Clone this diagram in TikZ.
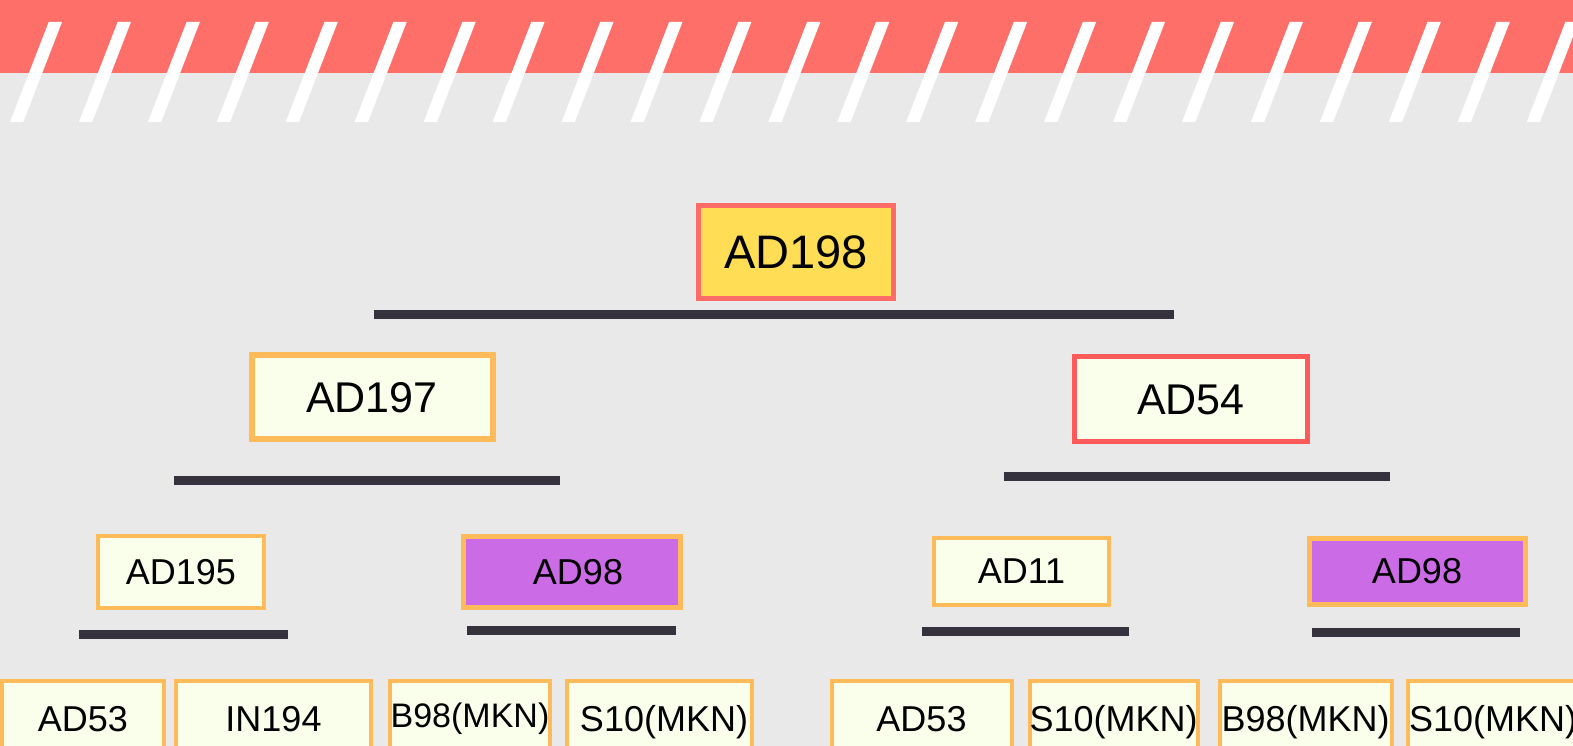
\documentclass[tikz,border=0pt]{standalone}
\usepackage{fontspec}
\setmainfont{Liberation Sans}
\definecolor{bg}{HTML}{E9E9E9}
\definecolor{hdr}{HTML}{FF6F69}
\definecolor{redb}{HTML}{FF5A5A}
\definecolor{rootb}{HTML}{FF6B66}
\definecolor{yel}{HTML}{FFDD55}
\definecolor{orb}{HTML}{FFBB5A}
\definecolor{pale}{HTML}{FAFFEC}
\definecolor{purp}{HTML}{CB6CE6}
\definecolor{barc}{HTML}{35323D}
\tikzset{
  box/.style={draw=orb, fill=pale, line width=5pt, inner sep=0pt, text depth=0pt, anchor=center},
  big/.style={font=\fontsize{47}{50}\selectfont, text height=33.7pt},
  mid/.style={font=\fontsize{43}{46}\selectfont, text height=30.8pt},
  small/.style={font=\fontsize{36}{40}\selectfont, text height=25.8pt},
  bar/.style={draw=barc, line width=9pt},
}
\begin{document}
\begin{tikzpicture}[x=1pt,y=-1pt]
\useasboundingbox (0,0) rectangle (1573,746);
\begin{scope}
\clip (0,0) rectangle (1573,746);
\fill[bg] (0,0) rectangle (1573,746);
\fill[hdr] (0,0) rectangle (1573,72.7);
\foreach \i in {0,...,23} {
  \pgfmathsetmacro{\xa}{48.7+68.94*\i}
  \fill[white] (\xa,22) -- (\xa+13.3,22) -- (\xa+13.3-38.7,122) -- (\xa-38.7,122) -- cycle;
}
% level 1
\node[box, big, draw=rootb, fill=yel, minimum width=195pt, minimum height=93pt] (r) at (796,251.7) {AD198};
\coordinate (r1) at (374,314); \coordinate (r2) at (1174,314);
\draw[bar] (r1) -- (r2);
% level 2
\node[box, mid, minimum width=241pt, minimum height=84pt, line width=6pt] (a197) at (372,396.8) {AD197};
\coordinate (a1) at (173.5,480.5); \coordinate (a2) at (560,480.5);
\draw[bar] (a1) -- (a2);
\node[box, mid, draw=redb, minimum width=233pt, minimum height=85pt] (a54) at (1191,398.8) {AD54};
\coordinate (b1) at (1004,476.5); \coordinate (b2) at (1390,476.5);
\draw[bar] (b1) -- (b2);
% level 3
\node[box, small, minimum width=166pt, minimum height=72pt, line width=4pt] (a195) at (180.8,572) {AD195};
\coordinate (c1) at (79,634.7); \coordinate (c2) at (288,634.7);
\draw[bar] (c1) -- (c2);
\node[box, small, fill=purp, minimum width=217pt, minimum height=71pt] (a98l) at (572,572) {\hspace*{12pt}AD98};
\coordinate (d1) at (466.7,630.7); \coordinate (d2) at (675.7,630.7);
\draw[bar] (d1) -- (d2);
\node[box, small, minimum width=175pt, minimum height=67pt, line width=4pt] (a11) at (1021.5,571) {AD11};
\coordinate (e1) at (922,631); \coordinate (e2) at (1129,631);
\draw[bar] (e1) -- (e2);
\node[box, small, fill=purp, minimum width=216pt, minimum height=66pt] (a98r) at (1417,571) {AD98};
\coordinate (f1) at (1312,632); \coordinate (f2) at (1520,632);
\draw[bar] (f1) -- (f2);
% level 4
\node[box, small, minimum width=162pt, minimum height=76pt, line width=4pt] (g1) at (83,719) {AD53};
\node[box, small, minimum width=195pt, minimum height=76pt, line width=4pt] (g2) at (273.5,719) {IN194};
\node[box, font=\fontsize{34}{38}\selectfont, text height=24.3pt, text depth=7pt, minimum width=160pt, minimum height=76pt, line width=4pt] (g3) at (470,719) {B98(MKN)};
\node[box, small, minimum width=185pt, minimum height=76pt, line width=4pt] (g4) at (659,719) {\hspace*{10pt}S10(MKN)};
\node[box, small, minimum width=180pt, minimum height=76pt, line width=4pt] (h1) at (921.5,719) {AD53};
\node[box, small, minimum width=164pt, minimum height=76pt, line width=4pt] (h2) at (1113.5,719) {S10(MKN)};
\node[box, small, minimum width=172pt, minimum height=76pt, line width=4pt] (h3) at (1305.5,719) {B98(MKN)};
\node[box, small, minimum width=170pt, minimum height=76pt, line width=4pt] (h4) at (1493,719) {S10(MKN)};
\end{scope}
\end{tikzpicture}
\end{document}
